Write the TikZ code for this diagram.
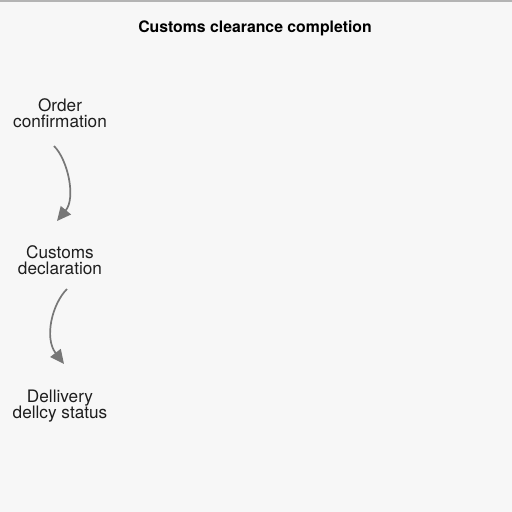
\documentclass[tikz,border=0pt]{standalone}
\usepackage{fontspec}
\setmainfont{TeX Gyre Heros}
\usetikzlibrary{arrows.meta}
\definecolor{bgc}{HTML}{F7F7F7}
\definecolor{topc}{HTML}{B4B4B4}
\definecolor{arrc}{HTML}{777777}
\definecolor{txtc}{HTML}{1E1E1E}
\begin{document}
\begin{tikzpicture}[x=1pt,y=-1pt,
  stepnode/.style={align=center,text=txtc,inner sep=0pt,font=\fontsize{17.2}{16.5}\selectfont},
  titlenode/.style={text=black,inner sep=0pt,font=\fontsize{15.8}{18}\selectfont\bfseries},
  flowarrow/.style={draw=arrc,line width=1.7pt,-{Triangle[length=14pt,width=13pt]}}]
\fill[bgc] (0,0) rectangle (512,512);
\useasboundingbox (0,0) rectangle (512,512);
\fill[topc] (0,0) rectangle (512,2);
\node[titlenode] (title) at (255,28) {Customs clearance completion};
\node[stepnode] (n1) at (60,113) {Order\\confirmation};
\node[stepnode] (n2) at (60,260) {Customs\\declaration};
\node[stepnode] (n3) at (60,406) {Dellivery\\dellcy status};
\coordinate (a1s) at (54,146);
\coordinate (a1e) at (57,221);
\coordinate (a2s) at (67,289);
\coordinate (a2e) at (64,364);
\draw[flowarrow] (a1s) .. controls (68,160) and (76,198) .. (a1e);
\draw[flowarrow] (a2s) .. controls (52,304) and (44,338) .. (a2e);
\end{tikzpicture}
\end{document}
